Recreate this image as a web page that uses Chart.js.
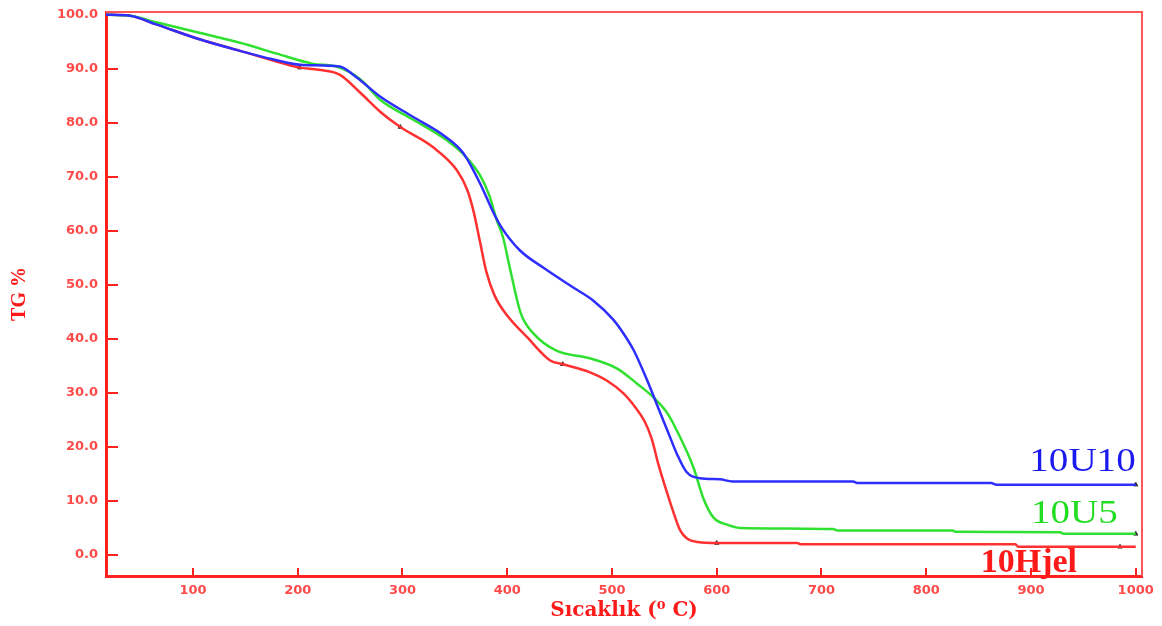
<!DOCTYPE html>
<html>
<head>
<meta charset="utf-8">
<script src="https://cdn.jsdelivr.net/npm/chart.js@4.4.1/dist/chart.umd.min.js"></script>
<style>
  html, body { margin: 0; padding: 0; background: #fff; }
  #wrap { width: 1162px; height: 626px; }
</style>
</head>
<body>
<div id="wrap"><canvas id="tgChart"></canvas></div>
<script>
// TG curves: temperature (°C) and remaining mass (%)
const temp10U10 = [17, 40, 65, 107, 145, 175, 205, 240, 253, 279, 310, 339, 358, 374, 387, 395, 412, 435, 463, 482, 501, 511, 521, 533, 544, 553, 562, 571, 584, 603, 615, 730, 735, 862, 867, 1000];
const tg10U10   = [100, 99.8, 98.2, 95.4, 93.3, 91.8, 90.7, 90.4, 88.9, 84.8, 81.1, 77.7, 74.4, 68.8, 63.3, 60.5, 56.4, 53.1, 49.5, 47.1, 43.6, 41.0, 37.8, 32.6, 27.3, 23.0, 18.7, 15.4, 14.2, 14.0, 13.6, 13.6, 13.3, 13.3, 13.0, 13.0];

const temp10U5 = [17, 40, 65, 107, 145, 180, 215, 237, 260, 279, 310, 342, 360, 374, 383, 390, 396, 403, 413, 425, 447, 479, 505, 524, 540, 553, 562, 578, 587, 597, 610, 622, 711, 716, 825, 828, 928, 931, 1000];
const tg10U5   = [100, 99.8, 98.6, 96.6, 94.8, 92.8, 90.9, 90.4, 88.0, 84.2, 80.6, 76.8, 73.8, 70.3, 66.5, 62.0, 58.8, 52.7, 44.7, 41.0, 37.8, 36.4, 34.5, 31.7, 29.1, 26.2, 23.0, 16.1, 10.6, 6.9, 5.6, 5.0, 4.8, 4.5, 4.5, 4.3, 4.2, 3.9, 3.9];

const temp10Hjel = [17, 40, 65, 107, 145, 175, 202, 220, 240, 260, 279, 298, 329, 352, 362, 368, 374, 380, 388, 400, 419, 441, 453, 479, 495, 511, 522, 531, 538, 544, 551, 558, 565, 572, 582, 600, 677, 680, 885, 888, 1000];
const tg10Hjel   = [100, 99.8, 98.2, 95.4, 93.3, 91.6, 90.2, 89.8, 88.9, 85.5, 82.0, 79.2, 75.5, 71.2, 67.5, 63.5, 58.0, 52.5, 48.0, 44.3, 40.3, 36.0, 35.3, 33.8, 32.3, 29.9, 27.4, 24.8, 21.5, 17.0, 12.5, 8.3, 4.6, 3.0, 2.4, 2.2, 2.2, 2.0, 2.0, 1.5, 1.5];

// small dark marks the instrument put on the curves
const markTemps = [202, 298, 453, 600, 1000, 1000, 985];
const markTg    = [90.2, 79.2, 35.3, 2.2, 13.0, 3.9, 1.5];

const seriesNames = ['10U10', '10U5', '10Hjel'];
const xTicks = [100, 200, 300, 400, 500, 600, 700, 800, 900, 1000];
const yTicks = [0, 10, 20, 30, 40, 50, 60, 70, 80, 90, 100];

const toPoints = (xs, ys) => xs.map((x, i) => ({ x: x, y: ys[i] }));

const BLUE = '#2e2eff';
const GREEN = '#30e030';
const RED = '#ff3030';
const AXIS_RED = '#ff2020';
const TICK_RED = '#ff4a4a';

// curve names written next to the plateaus
const curveLabels = {
  id: 'curveLabels',
  afterDatasetsDraw(chart) {
    const { ctx, scales: { x, y } } = chart;
    const items = [
      { text: seriesNames[0], t: 1000, v: 15.6, align: 'right', color: '#1a1aee', weight: 'normal' },
      { text: seriesNames[1], t: 983, v: 5.9, align: 'right', color: '#22dd22', weight: 'normal' },
      { text: seriesNames[2], t: 852, v: -3.2, align: 'left', color: '#ff1a1a', weight: 'bold' }
    ];
    items.forEach(it => {
      ctx.save();
      ctx.translate(x.getPixelForValue(it.t), y.getPixelForValue(it.v));
      ctx.scale(it.weight === 'bold' ? 1.0 : 1.15, 1);
      ctx.font = it.weight + ' 34px "Liberation Serif", serif';
      ctx.fillStyle = it.color;
      ctx.textAlign = it.align;
      ctx.textBaseline = 'alphabetic';
      ctx.fillText(it.text, 0, 0);
      ctx.restore();
    });
  }
};

// thin top and right sides of the frame
const frame = {
  id: 'frame',
  beforeDatasetsDraw(chart) {
    const { ctx, chartArea: a } = chart;
    ctx.save();
    ctx.strokeStyle = '#ff5555';
    ctx.lineWidth = 2;
    ctx.beginPath();
    ctx.moveTo(a.left, a.top);
    ctx.lineTo(a.right, a.top);
    ctx.lineTo(a.right, a.bottom);
    ctx.stroke();
    ctx.restore();
  }
};

const lineStyle = (color) => ({
  borderColor: color,
  backgroundColor: color,
  borderWidth: 2.5,
  pointRadius: 0,
  cubicInterpolationMode: 'monotone',
  fill: false
});

new Chart(document.getElementById('tgChart'), {
  type: 'line',
  data: {
    datasets: [
      Object.assign({ label: seriesNames[0], data: toPoints(temp10U10, tg10U10) }, lineStyle(BLUE)),
      Object.assign({ label: seriesNames[1], data: toPoints(temp10U5, tg10U5) }, lineStyle(GREEN)),
      Object.assign({ label: seriesNames[2], data: toPoints(temp10Hjel, tg10Hjel) }, lineStyle(RED)),
      {
        type: 'scatter',
        label: 'marks',
        data: toPoints(markTemps, markTg),
        pointStyle: 'triangle',
        pointRadius: 2.5,
        backgroundColor: '#333',
        borderColor: '#333',
        borderWidth: 1
      }
    ]
  },
  options: {
    responsive: true,
    maintainAspectRatio: false,
    animation: false,
    layout: { padding: { top: 12, right: 20, left: 0, bottom: 0 } },
    plugins: { legend: { display: false }, tooltip: { enabled: false } },
    scales: {
      x: {
        type: 'linear',
        min: 17,
        max: 1006,
        afterBuildTicks: (scale) => { scale.ticks = xTicks.map(v => ({ value: v })); },
        afterFit: (scale) => {
          scale.height = 50;
          scale.paddingLeft = 0;
          scale.paddingRight = 0;
        },
        border: { color: AXIS_RED, width: 3 },
        grid: { drawOnChartArea: false, color: AXIS_RED, lineWidth: 2, tickLength: -8 },
        ticks: {
          color: TICK_RED,
          padding: 15,
          maxRotation: 0,
          font: { family: '"DejaVu Sans", sans-serif', size: 13, weight: 'bold' },
          callback: (v) => String(v)
        },
        title: {
          display: true,
          text: 'Sıcaklık (⁰ C)',
          color: '#ff1a1a',
          padding: { top: 0, bottom: 3 },
          font: { family: '"DejaVu Serif", serif', size: 20, weight: 'bold' }
        }
      },
      y: {
        type: 'linear',
        min: -3.9,
        max: 100.5,
        afterBuildTicks: (scale) => { scale.ticks = yTicks.map(v => ({ value: v })); },
        afterFit: (scale) => {
          scale.width = 106;
          scale.paddingTop = 0;
          scale.paddingBottom = 0;
        },
        border: { color: AXIS_RED, width: 3 },
        grid: { drawOnChartArea: false, color: AXIS_RED, lineWidth: 2, tickLength: -12 },
        ticks: {
          color: TICK_RED,
          padding: 20,
          font: { family: '"DejaVu Sans", sans-serif', size: 13, weight: 'bold' },
          callback: (v) => v.toFixed(1)
        },
        title: {
          display: true,
          text: 'TG %',
          color: '#ff1a1a',
          padding: { top: 8, bottom: 0 },
          font: { family: '"Liberation Serif", serif', size: 20, weight: 'bold' }
        }
      }
    }
  },
  plugins: [frame, curveLabels]
});
</script>
</body>
</html>
